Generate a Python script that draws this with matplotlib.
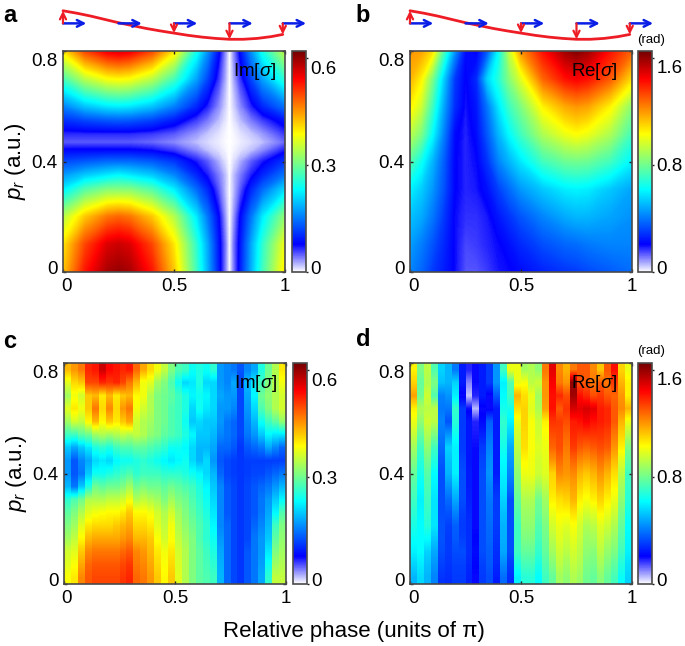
import numpy as np
import matplotlib
matplotlib.use('Agg')
import matplotlib.pyplot as plt
from matplotlib.cm import ScalarMappable
from matplotlib.colors import LinearSegmentedColormap, Normalize
from matplotlib.transforms import ScaledTranslation

plt.rcParams['font.family'] = ['Liberation Sans', 'DejaVu Sans']
plt.rcParams['mathtext.fontset'] = 'custom'
plt.rcParams['mathtext.rm'] = 'Liberation Sans'
plt.rcParams['mathtext.it'] = 'Liberation Sans:italic'
plt.rcParams['mathtext.bf'] = 'Liberation Sans:bold'

W, H = 685, 646

# panel a, theory
a_x = [0, .1, .2, .25, .3, .4, .5, .6, .65, .7, .73, .75, .77, .8, .85, .9, 1]
a_y = [0, .1, .2, .3, .35, .4, .44, .47, .5, .55, .6, .7, .8]
a_z = [
    [.42, .53, .59, .60, .59, .53, .42, .27, .185, .094, .038, 0, .038, .094, .185, .27, .40],
    [.40, .50, .56, .57, .56, .50, .40, .26, .18, .09, .04, 0, .04, .09, .18, .26, .38],
    [.34, .42, .47, .48, .47, .42, .34, .22, .15, .08, .03, 0, .03, .08, .15, .22, .32],
    [.22, .28, .31, .31, .31, .28, .22, .14, .10, .05, .02, 0, .02, .05, .10, .14, .21],
    [.17, .20, .22, .23, .22, .20, .16, .10, .07, .04, .02, 0, .02, .04, .07, .10, .15],
    [.12, .13, .14, .14, .14, .13, .11, .07, .05, .025, .01, 0, .01, .025, .05, .07, .11],
    [.08, .08, .08, .08, .08, .075, .06, .035, .02, .01, .004, 0, .004, .01, .02, .035, .07],
    [.05, .05, .05, .05, .05, .045, .035, .02, .012, .006, .002, 0, .002, .006, .012, .02, .045],
    [.065, .065, .065, .065, .065, .06, .05, .03, .018, .009, .003, 0, .003, .009, .018, .03, .06],
    [.105, .12, .13, .132, .13, .117, .092, .059, .041, .021, .008, 0, .008, .021, .041, .059, .09],
    [.155, .196, .218, .222, .218, .196, .155, .10, .068, .035, .014, 0, .014, .035, .068, .10, .148],
    [.273, .345, .384, .39, .384, .345, .273, .176, .12, .061, .025, 0, .025, .061, .12, .176, .26],
    [.40, .50, .55, .56, .55, .50, .40, .243, .167, .085, .034, 0, .034, .085, .167, .243, .35],
]

# panel b, theory
b_x = [0, .05, .1, .15, .2, .25, .3, .35, .4, .45, .5, .6, .7, .75, .8, .9, 1]
b_y = [0, .1, .2, .3, .4, .5, .6, .7, .8]
b_z = [
    [.42, .37, .30, .25, .20, .14, .14, .16, .19, .20, .22, .26, .29, .30, .32, .35, .38],
    [.46, .41, .34, .27, .20, .15, .16, .18, .20, .23, .27, .33, .37, .38, .40, .42, .42],
    [.52, .48, .40, .30, .20, .17, .17, .19, .24, .29, .34, .42, .48, .50, .50, .47, .44],
    [.60, .54, .45, .34, .21, .18, .19, .23, .31, .38, .45, .53, .59, .60, .59, .53, .47],
    [.75, .64, .50, .36, .21, .18, .20, .29, .42, .50, .58, .72, .79, .80, .79, .72, .60],
    [.92, .82, .62, .42, .22, .18, .22, .35, .50, .62, .72, .90, 1.0, 1.03, 1.0, .90, .72],
    [1.05, .95, .72, .48, .28, .19, .24, .40, .58, .72, .82, 1.05, 1.17, 1.2, 1.18, 1.05, .84],
    [1.15, 1.05, .82, .55, .30, .20, .27, .55, .68, .84, .98, 1.28, 1.42, 1.45, 1.42, 1.3, 1.08],
    [1.2, 1.18, 1.08, .75, .45, .22, .20, .35, .62, .95, 1.2, 1.42, 1.58, 1.62, 1.58, 1.42, 1.28],
]

# panel c, measured, rows from pr = 0 to 0.8
c_z = [
    [.385, .40, .46, .49, .50, .50, .50, .50, .51, .52, .48, .47, .45, .42, .39, .42, .37, .34, .31, .29, .28, .27, .19, .14, .12, .11, .13, .15, .18, .26, .35, .35],
    [.37, .385, .44, .48, .49, .49, .49, .49, .50, .51, .47, .46, .44, .41, .385, .41, .365, .34, .31, .29, .275, .26, .185, .14, .12, .11, .13, .15, .175, .24, .33, .34],
    [.36, .37, .42, .46, .47, .47, .47, .47, .48, .49, .46, .45, .43, .40, .38, .40, .36, .34, .31, .29, .27, .25, .18, .14, .12, .11, .13, .15, .17, .22, .31, .33],
    [.33, .35, .39, .43, .44, .44, .44, .44, .45, .46, .43, .43, .42, .385, .36, .385, .35, .33, .31, .28, .26, .24, .17, .14, .12, .11, .12, .15, .17, .20, .29, .32],
    [.31, .33, .37, .40, .41, .41, .41, .42, .43, .44, .41, .41, .40, .37, .35, .38, .34, .32, .30, .28, .26, .23, .16, .14, .12, .11, .12, .14, .16, .19, .27, .31],
    [.29, .31, .34, .37, .38, .385, .39, .39, .40, .42, .39, .39, .38, .36, .34, .36, .33, .31, .29, .27, .25, .22, .16, .13, .12, .11, .12, .13, .15, .18, .23, .28],
    [.26, .28, .30, .34, .34, .34, .35, .35, .36, .38, .34, .35, .34, .33, .31, .33, .31, .30, .28, .26, .24, .21, .16, .13, .12, .11, .12, .13, .15, .17, .20, .23],
    [.19, .15, .20, .25, .30, .29, .30, .30, .31, .33, .30, .31, .30, .30, .29, .30, .29, .28, .27, .25, .23, .20, .16, .13, .12, .11, .12, .13, .14, .15, .17, .19],
    [.17, .13, .15, .20, .24, .24, .25, .26, .27, .28, .26, .27, .27, .27, .26, .26, .26, .25, .24, .23, .21, .19, .14, .12, .115, .11, .115, .12, .12, .13, .14, .15],
    [.17, .13, .16, .18, .21, .22, .21, .23, .24, .24, .25, .26, .25, .24, .23, .22, .23, .24, .21, .19, .21, .17, .13, .12, .115, .11, .115, .115, .115, .115, .115, .115],
    [.20, .18, .20, .22, .25, .26, .25, .27, .28, .28, .29, .29, .28, .27, .26, .24, .24, .23, .21, .19, .19, .18, .14, .14, .13, .11, .13, .14, .15, .18, .16, .14],
    [.27, .27, .29, .30, .33, .34, .33, .34, .35, .34, .35, .34, .32, .31, .29, .28, .27, .25, .23, .20, .20, .19, .16, .15, .14, .12, .15, .17, .20, .23, .22, .22],
    [.33, .36, .35, .39, .43, .39, .42, .40, .42, .44, .36, .34, .33, .31, .30, .28, .27, .24, .20, .21, .20, .20, .17, .15, .14, .12, .16, .19, .24, .27, .29, .32],
    [.37, .40, .38, .42, .47, .41, .46, .41, .45, .47, .38, .36, .34, .31, .30, .28, .27, .25, .21, .24, .22, .21, .17, .17, .16, .12, .17, .21, .28, .31, .34, .36],
    [.33, .38, .36, .42, .43, .40, .43, .40, .42, .43, .39, .38, .34, .31, .30, .29, .27, .25, .23, .24, .23, .21, .18, .17, .17, .12, .18, .23, .30, .32, .34, .36],
    [.37, .41, .42, .50, .50, .52, .51, .52, .50, .47, .43, .38, .37, .33, .31, .28, .24, .21, .22, .25, .21, .21, .17, .16, .18, .12, .19, .22, .27, .31, .34, .38],
    [.43, .45, .47, .52, .53, .57, .54, .53, .52, .53, .48, .44, .41, .38, .35, .31, .28, .27, .24, .25, .24, .26, .17, .16, .15, .13, .16, .18, .25, .30, .34, .40],
]

# panel d, measured, rows from pr = 0 to 0.8
d_z = [
    [.50, .56, .50, .42, .29, .28, .30, .30, .26, .20, .30, .33, .25, .38, .28, .60, .68, .68, .62, .72, .78, .88, .85, .90, .87, .80, .78, .84, .78, .73, .63, .55],
    [.55, .59, .52, .45, .31, .29, .31, .31, .27, .21, .31, .35, .27, .43, .30, .66, .73, .73, .66, .75, .83, .92, .88, .93, .90, .82, .81, .88, .82, .77, .67, .57],
    [.60, .62, .55, .48, .33, .30, .33, .33, .28, .22, .33, .36, .28, .48, .33, .72, .78, .78, .70, .78, .88, .95, .92, .96, .92, .85, .84, .92, .86, .82, .72, .60],
    [.63, .62, .62, .53, .34, .30, .35, .31, .28, .21, .33, .37, .29, .49, .33, .72, .82, .82, .73, .80, .92, .98, .95, .99, .94, .87, .88, .95, .90, .86, .75, .61],
    [.66, .62, .68, .58, .34, .31, .36, .30, .28, .20, .33, .38, .30, .50, .33, .72, .85, .85, .75, .82, .96, 1.0, .98, 1.02, .96, .90, .92, .98, .95, .90, .78, .62],
    [.69, .61, .70, .58, .33, .34, .42, .31, .27, .20, .33, .39, .30, .52, .33, .75, .87, .87, .78, .85, 1.0, 1.04, 1.04, 1.08, 1.0, .96, .98, 1.04, 1.0, .95, .81, .65],
    [.72, .60, .72, .58, .33, .38, .48, .33, .26, .20, .33, .40, .30, .55, .33, .78, .90, .90, .80, .88, 1.05, 1.08, 1.10, 1.15, 1.05, 1.02, 1.05, 1.10, 1.05, 1.0, .85, .68],
    [.75, .62, .74, .60, .33, .44, .54, .33, .25, .20, .33, .42, .28, .58, .38, .82, .95, .95, .88, .93, 1.08, 1.15, 1.15, 1.18, 1.10, 1.07, 1.10, 1.15, 1.10, 1.04, .88, .70],
    [.78, .65, .76, .62, .33, .50, .60, .33, .25, .20, .33, .45, .25, .60, .42, .85, 1.0, 1.0, .95, .98, 1.1, 1.22, 1.2, 1.22, 1.15, 1.12, 1.15, 1.2, 1.15, 1.08, .92, .72],
    [.83, .68, .80, .67, .35, .52, .60, .32, .24, .20, .32, .44, .25, .62, .45, .89, 1.04, 1.01, .96, .99, 1.2, 1.27, 1.22, 1.28, 1.22, 1.2, 1.22, 1.26, 1.22, 1.14, .98, .77],
    [.88, .72, .85, .72, .38, .55, .60, .30, .24, .20, .30, .42, .25, .65, .48, .93, 1.08, 1.02, .98, 1.0, 1.28, 1.32, 1.25, 1.35, 1.3, 1.28, 1.3, 1.32, 1.3, 1.2, 1.05, .82],
    [.94, .78, .90, .82, .40, .45, .64, .30, .24, .19, .26, .39, .25, .68, .54, .96, 1.09, 1.02, .96, 1.02, 1.32, 1.33, 1.28, 1.38, 1.36, 1.36, 1.36, 1.36, 1.34, 1.25, 1.10, .91],
    [1.0, .85, .95, .92, .42, .34, .68, .30, .24, .18, .22, .36, .25, .70, .60, 1.0, 1.1, 1.02, .95, 1.05, 1.36, 1.35, 1.32, 1.4, 1.42, 1.45, 1.42, 1.4, 1.38, 1.3, 1.15, 1.0],
    [1.05, .90, .92, .92, .40, .40, .70, .30, .20, .06, .20, .20, .25, .65, .65, 1.08, 1.1, .98, .90, 1.18, 1.42, 1.3, 1.36, 1.5, 1.48, 1.5, 1.48, 1.4, 1.38, 1.3, 1.22, 1.15],
    [1.18, .80, .95, .75, .42, .45, .60, .20, .05, .18, .25, .20, .35, .62, .72, 1.15, 1.08, 1.0, .88, 1.2, 1.42, 1.38, 1.32, 1.58, 1.42, 1.38, 1.32, 1.35, 1.3, 1.28, 1.2, 1.05],
    [1.10, .78, .90, .82, .52, .50, .55, .25, .10, .20, .25, .30, .45, .60, .75, 1.0, 1.02, .92, .95, 1.2, 1.45, 1.25, 1.2, 1.6, 1.32, 1.3, 1.25, 1.3, 1.25, 1.35, 1.15, 1.05],
    [1.05, .82, .92, .75, .55, .50, .40, .25, .18, .20, .25, .30, .45, .72, 1.0, 1.0, .88, .90, .85, 1.25, 1.48, 1.22, 1.15, 1.25, 1.3, 1.3, 1.22, 1.12, 1.3, 1.42, 1.1, 1.0],
]

# sketch of the two colour field above a and b
field_phase = [0, .0625, .125, .1875, .25, .3125, .375, .4375, .5, .5625, .625, .6875, .75, .8125, .875, .9375, .99]
field_height = [1.182, 1.171, 1.158, 1.143, 1.128, 1.115, 1.102, 1.091, 1.081, 1.071, 1.063, 1.057, 1.053, 1.053, 1.057, 1.065, 1.075]
arrow_phase = [0, .25, .5, .75, .99]
arrow_tips = [1.182, None, 1.081, 1.053, 1.075]
arrow_base = 1.125
arrow_length = .105

cmap = LinearSegmentedColormap.from_list('jet_white', [
    (0, (1, 1, 1)), (.125, (0, 0, 1)), (.375, (0, 1, 1)),
    (.625, (1, 1, 0)), (.875, (1, 0, 0)), (1, (.45, 0, 0))], N=512)

frame = '#4a4a4a'


def add_axes(left, top, right, bottom):
    return fig.add_axes([left / W, 1 - bottom / H, (right - left) / W, (bottom - top) / H])


def shift_labels(labels, offsets):
    for lab, (dx, dy) in zip(labels, offsets):
        lab.set_transform(lab.get_transform() + ScaledTranslation(dx / 100, dy / 100, fig.dpi_scale_trans))


def style_main(ax, ylabel):
    ax.set_xlim(0, 1)
    ax.set_ylim(0, .8)
    ax.set_xticks([0, .5, 1], ['0', '0.5', '1'])
    ax.set_yticks([0, .4, .8], ['0', '0.4', '0.8'])
    ax.tick_params(direction='in', length=2, width=1, color='#222222', labelsize=13.5,
                   top=True, right=True, pad=4)
    for s in ax.spines.values():
        s.set_color(frame)
        s.set_linewidth(1.2)
    shift_labels(ax.get_xticklabels(), [(3, 0), (0, 0), (0, 0)])
    shift_labels(ax.get_yticklabels(), [(0, 5), (0, 0), (0, -9)])
    if ylabel:
        ax.set_ylabel(r'$p_r$ (a.u.)', fontsize=16, labelpad=2)


def add_cbar(left, top, right, bottom, vmax, ticks, labels):
    cax = add_axes(left, top, right, bottom)
    cb = fig.colorbar(ScalarMappable(Normalize(0, vmax), cmap), cax=cax)
    cb.set_ticks(ticks, labels=labels)
    cb.ax.tick_params(direction='out', length=1.5, width=1, color='#222222', labelsize=13.5, pad=1.5)
    cb.outline.set_edgecolor(frame)
    cb.outline.set_linewidth(1.2)
    shift_labels(cb.ax.get_yticklabels(), [(0, 5), (0, 0), (0, -9)])
    return cax


def draw_columns(ax, z, vmax):
    z = np.array(z)
    n = z.shape[1]
    for i in range(n):
        ax.imshow(z[:, [i]], extent=[i / n, (i + 1) / n, 0, .8], origin='lower', aspect='auto',
                  cmap=cmap, vmin=0, vmax=vmax, interpolation='bilinear', interpolation_stage='data')


def draw_field(ax):
    tr = ax.get_xaxis_transform()
    for p in arrow_phase:
        ax.annotate('', xy=(p + arrow_length, arrow_base), xytext=(p, arrow_base), xycoords=tr, textcoords=tr,
                    arrowprops=dict(arrowstyle='->', color='#0a1ee6', lw=1.8, shrinkA=0, shrinkB=0,
                                    mutation_scale=12))
    ax.plot(field_phase, field_height, color='#ee1c25', lw=2, transform=tr, clip_on=False, solid_capstyle='round')
    for p, tip in zip(arrow_phase, arrow_tips):
        if tip is None:
            continue
        ax.annotate('', xy=(p, tip), xytext=(p, arrow_base), xycoords=tr, textcoords=tr,
                    arrowprops=dict(arrowstyle='->', color='#ee1c25', lw=1.6, shrinkA=0, shrinkB=0,
                                    mutation_scale=11))


fig = plt.figure(figsize=(W / 100, H / 100), dpi=100)

ax_a = add_axes(63, 51, 285, 272)
ax_a.contourf(a_x, a_y, np.array(a_z), levels=np.linspace(0, .62, 500), cmap=cmap, vmin=0, vmax=.62, extend='both')
style_main(ax_a, True)
draw_field(ax_a)
add_cbar(292, 51, 306, 272, .62, [0, .3, .6], ['0', '0.3', '0.6'])
ax_a.text(.865, .905, r'Im[$\sigma$]', transform=ax_a.transAxes, ha='center', va='center', fontsize=13.5)

ax_b = add_axes(410, 51, 632, 272)
ax_b.contourf(b_x, b_y, np.array(b_z), levels=np.linspace(0, 1.65, 500), cmap=cmap, vmin=0, vmax=1.65, extend='both')
style_main(ax_b, False)
draw_field(ax_b)
add_cbar(638, 51, 652, 272, 1.65, [0, .8, 1.6], ['0', '0.8', '1.6'])
ax_b.text(.83, .905, r'Re[$\sigma$]', transform=ax_b.transAxes, ha='center', va='center', fontsize=13.5)

ax_c = add_axes(64, 363, 286, 584)
draw_columns(ax_c, c_z, .62)
style_main(ax_c, True)
add_cbar(293, 363, 307, 584, .62, [0, .3, .6], ['0', '0.3', '0.6'])
ax_c.text(.865, .905, r'Im[$\sigma$]', transform=ax_c.transAxes, ha='center', va='center', fontsize=13.5)

ax_d = add_axes(410, 363, 632, 584)
draw_columns(ax_d, d_z, 1.65)
style_main(ax_d, False)
add_cbar(638, 363, 652, 584, 1.65, [0, .8, 1.6], ['0', '0.8', '1.6'])
ax_d.text(.83, .905, r'Re[$\sigma$]', transform=ax_d.transAxes, ha='center', va='center', fontsize=13.5)

fig.text(651 / W, 1 - 40 / H, '(rad)', ha='center', va='center', fontsize=9.5)
fig.text(651 / W, 1 - 351 / H, '(rad)', ha='center', va='center', fontsize=9.5)

for letter, px, py in [('a', 10, 16), ('b', 363, 16), ('c', 10, 342), ('d', 363, 340)]:
    fig.text(px / W, 1 - py / H, letter, ha='center', va='center', fontsize=17, fontweight='bold')

fig.text(354 / W, 1 - 631 / H, 'Relative phase (units of π)', ha='center', va='center', fontsize=16)

fig.savefig('out.png', dpi=100)
